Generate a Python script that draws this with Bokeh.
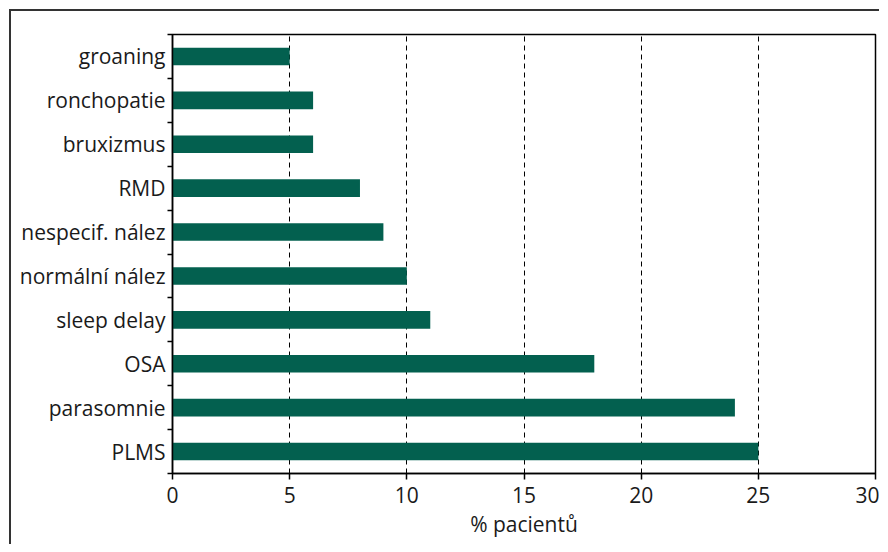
from bokeh.plotting import figure
from bokeh.models import Range1d, FixedTicker, ColumnDataSource
from bokeh.embed import file_html
from bokeh.resources import INLINE

categories = ["PLMS", "parasomnie", "OSA", "sleep delay", "normální nález",
              "nespecif. nález", "RMD", "bruxizmus", "ronchopatie", "groaning"]
values = [25, 24, 18, 11, 10, 9, 8, 6, 6, 5]
x_ticks = [0, 5, 10, 15, 20, 25, 30]
x_label = "% pacientů"

FONT = "Open Sans"
BAR = "#03604F"
TXT = "#1a1a1a"

pos = list(range(len(categories)))
src = ColumnDataSource(dict(y=pos, v=values, c=categories))

p = figure(width=870, height=535, output_backend="svg", toolbar_location=None,
           x_range=Range1d(0, 30), y_range=Range1d(-0.5, len(categories) - 0.5),
           min_border_left=161, min_border_right=6, min_border_top=23, min_border_bottom=73)
p.margin = (9, 0, 0, 9)
p.styles = {"border-left": "2px solid #333", "border-top": "2px solid #333"}

p.hbar(y="y", right="v", left=0, height=0.4, source=src, color=BAR, line_color=None)

p.outline_line_color = "black"
p.outline_line_width = 1.5
p.background_fill_color = "white"
p.border_fill_color = "white"

# x axis
p.xaxis.ticker = FixedTicker(ticks=x_ticks)
p.xaxis.axis_line_color = "black"
p.xaxis.axis_line_width = 1.5
p.xaxis.major_tick_line_color = "black"
p.xaxis.major_tick_line_width = 1.5
p.xaxis.major_tick_out = 6
p.xaxis.major_tick_in = 0
p.xaxis.minor_tick_line_color = None
p.xaxis.major_label_text_font = FONT
p.xaxis.major_label_text_font_size = "21px"
p.xaxis.major_label_text_color = TXT
p.xaxis.major_label_standoff = 7
p.xaxis.axis_label = x_label
p.xaxis.axis_label_text_font = FONT
p.xaxis.axis_label_text_font_size = "21px"
p.xaxis.axis_label_text_font_style = "normal"
p.xaxis.axis_label_text_color = TXT
p.xaxis.axis_label_standoff = 4

# y axis
p.yaxis.ticker = FixedTicker(ticks=pos, minor_ticks=[i - 0.5 for i in range(len(categories) + 1)])
p.yaxis.major_label_overrides = {i: c for i, c in zip(pos, categories)}
p.yaxis.axis_line_color = "black"
p.yaxis.axis_line_width = 1.5
p.yaxis.major_tick_line_color = None
p.yaxis.major_tick_out = 0
p.yaxis.major_tick_in = 0
p.yaxis.minor_tick_line_color = "black"
p.yaxis.minor_tick_line_width = 1.5
p.yaxis.minor_tick_out = 5
p.yaxis.minor_tick_in = 0
p.yaxis.major_label_text_font = FONT
p.yaxis.major_label_text_font_size = "21px"
p.yaxis.major_label_text_color = TXT
p.yaxis.major_label_standoff = 2

# grid
p.ygrid.grid_line_color = None
p.xgrid.ticker = FixedTicker(ticks=x_ticks)
p.xgrid.grid_line_color = "black"
p.xgrid.grid_line_width = 1
p.xgrid.grid_line_dash = "5 4"

open("out.html", "w").write(file_html(p, INLINE))
